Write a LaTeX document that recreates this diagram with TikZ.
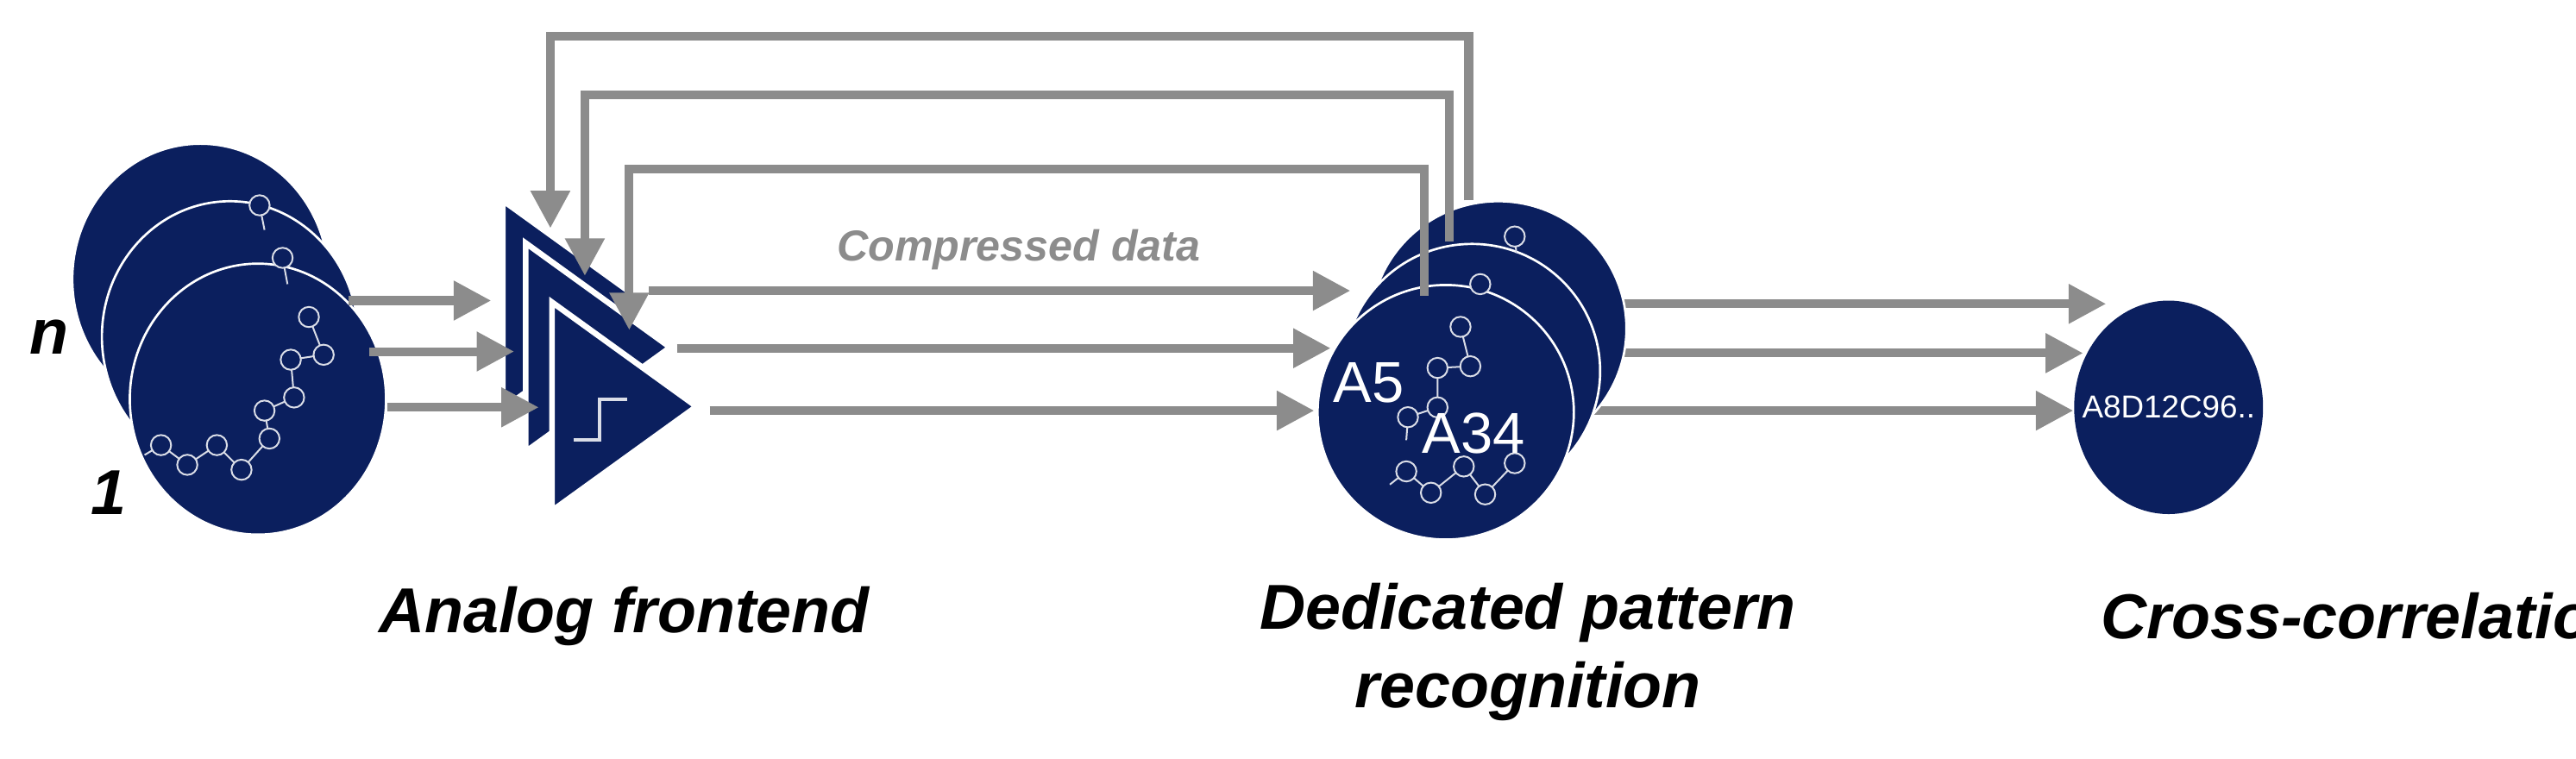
\documentclass[tikz,border=0pt]{standalone}
\usepackage{fontspec}
\setmainfont{Liberation Sans}
\usetikzlibrary{shapes.geometric,arrows.meta}
\definecolor{navy}{HTML}{0B1F5E}
\definecolor{wire}{HTML}{8C8C8C}
\newcommand*{\rw}{3.12cm}
\newcommand*{\rh}{3.30cm}
\tikzset{
	disc/.style n args={2}{
		ellipse,
		minimum width = #1,
		minimum height = #2,
		fill = navy,
		draw = white,
		line width = 0.8pt,
		inner sep = 0pt,
		},
	link/.style={
		draw = wire,
		line width = 3pt,
		-{Triangle[length=13pt,width=13pt]},
		},
	atom/.style={
		circle,
		draw = white!85!navy,
		fill = navy,
		line width = 0.6pt,
		minimum size = 7pt,
		inner sep = 0pt,
		},
	bond/.style={
		white!85!navy,
		line width = 0.6pt,
		},
	caption/.style={
		font=\fontsize{22}{27}\selectfont\bfseries\itshape,
		align=center,
		}
	}

\begin{document}
\begin{tikzpicture}[x=0.02cm,y=-0.02cm]
	\useasboundingbox (0,0) rectangle (1568,462);
	% electrode stack
	\node (eb) [disc={\rw}{\rh}] at (122,170) {};
	\node (em) [disc={\rw}{\rh}] at (140,205) {};
	\node (ef) [disc={\rw}{\rh}] at (157,243) {};
	\node (nlab) [font=\fontsize{22}{26}\selectfont\bfseries\itshape] at (30,205) {n};
	\node (olab) [font=\fontsize{22}{26}\selectfont\bfseries\itshape] at (66,300) {1};
	% molecule on front electrode
	\coordinate (m0) at (88,277);
	\foreach \i/\px/\py in {1/98/271, 2/114/283, 3/132/271, 4/147/286, 5/164/267, 6/161/250, 7/179/242, 8/177/219, 9/197/216, 10/188/193}
		\coordinate (m\i) at (\px,\py);
	\draw [bond] (m0) -- (m1) -- (m2) -- (m3) -- (m4) -- (m5) -- (m6) -- (m7) -- (m8) -- (m9) -- (m10);
	\foreach \i in {1,...,10} \node [atom] at (m\i) {};
	\draw [bond] (158,125) -- (161,140);
	\node [atom] at (158,125) {};
	\draw [bond] (172,157) -- (175,173);
	\node [atom] at (172,157) {};
	% amplifiers
	\foreach \nm/\lx/\ty in {ab/306/122, am/320/148, af/336/184} {
		\coordinate (\nm-t) at (\lx,\ty);
		\coordinate (\nm-b) at (\lx,\ty+127);
		\coordinate (\nm-o) at (\lx+88,\ty+63.5);
		\filldraw [fill=navy, draw=white, line width=2pt, line join=miter] (\nm-t) -- (\nm-o) -- (\nm-b) -- cycle;
	}
	\draw [white!85!navy, line width=1.2pt] (349,268) -- (365,268) -- (365,243) -- (382,243);
	% electrode to amplifier
	\coordinate (s1) at (212,183); \coordinate (t1) at (299,183);
	\coordinate (s2) at (225,214); \coordinate (t2) at (313,214);
	\coordinate (s3) at (236,248); \coordinate (t3) at (328,248);
	\foreach \i in {1,2,3} \draw [link] (s\i) -- (t\i);
	% pattern recognition stack
	\coordinate (u1) at (985,185); \coordinate (v1) at (1282,185);
	\coordinate (u2) at (970,215); \coordinate (v2) at (1268,215);
	\coordinate (u3) at (960,250); \coordinate (v3) at (1262,250);
	\foreach \i in {1,2,3} \draw [link] (u\i) -- (v\i);
	\node (pb) [disc={\rw}{3.1cm}] at (912,200) {};
	\node (pm) [disc={\rw}{3.1cm}] at (896,226) {};
	\node (pf) [disc={\rw}{3.1cm}] at (880,251) {};
	\draw [bond] (922,144) -- (923,154);
	\node [atom] at (922,144) {};
	\node [atom] at (901,173) {};
	\coordinate (k0) at (846,295);
	\foreach \i/\px/\py in {1/856/287, 2/871/300, 3/891/284, 4/904/301, 5/922/282}
		\coordinate (k\i) at (\px,\py);
	\draw [bond] (k0) -- (k1) -- (k2) -- (k3) -- (k4) -- (k5);
	\foreach \i/\px/\py in {1/889/199, 2/895/223, 3/875/224, 4/875/248, 5/857/254}
		\coordinate (q\i) at (\px,\py);
	\draw [bond] (q1) -- (q2) -- (q3) -- (q4) -- (q5) -- (856,268);
	\foreach \i in {1,...,5} {
		\node [atom] at (k\i) {};
		\node [atom] at (q\i) {};
	}
	\node (a5) [text=white, font=\fontsize{20}{24}\selectfont] at (833,233) {A5};
	\node (a34) [text=white, font=\fontsize{20}{24}\selectfont] at (897,264) {A34};
	% amplifier to pattern recognition
	\coordinate (x1) at (395,177); \coordinate (y1) at (822,177);
	\coordinate (x2) at (412,212); \coordinate (y2) at (810,212);
	\coordinate (x3) at (432,250); \coordinate (y3) at (800,250);
	\foreach \i in {1,2,3} \draw [link] (x\i) -- (y\i);
	\node (cd) [text=wire, font=\fontsize{15}{18}\selectfont\bfseries\itshape] at (620,152) {Compressed data};
	% feedback
	\coordinate (f1) at (894,122); \coordinate (g1) at (335,139); \coordinate (h1) at (0,22);
	\coordinate (f2) at (882,147); \coordinate (g2) at (356,168); \coordinate (h2) at (0,58);
	\coordinate (f3) at (867,180); \coordinate (g3) at (383,201); \coordinate (h3) at (0,103);
	\foreach \i in {1,2,3}
		\draw [link] (f\i) -- (f\i |- h\i) -- (g\i |- h\i) -- (g\i);
	% cross-correlation
	\node (cc) [disc={2.3cm}{2.6cm}, draw=none] at (1320,248) {};
	\node (seq) [text=white, font=\fontsize{11}{13}\selectfont] at (cc) {A8D12C96..};
	% captions
	\node (c1) [caption] at (380,375) {Analog frontend};
	\node (c2) [caption] at (930,397) {Dedicated pattern\\recognition};
	\node (c3) [caption] at (1440,375) {Cross-correlation};
\end{tikzpicture}
\end{document}
